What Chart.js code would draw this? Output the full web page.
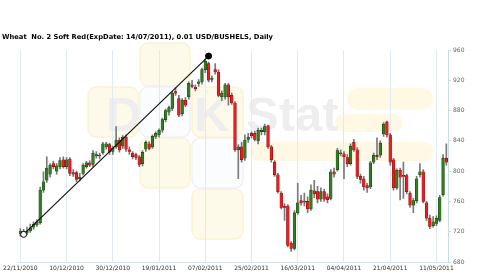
<!DOCTYPE html>
<html>
<head>
<meta charset="utf-8">
<script src="https://cdn.jsdelivr.net/npm/chart.js@4.4.0/dist/chart.umd.min.js"></script>
<style>
html,body{margin:0;padding:0;background:#fff;}
#wrap{position:relative;width:500px;height:279px;overflow:hidden;}
#c{position:absolute;left:0;top:0;}
#title{position:absolute;left:2px;top:32px;font-family:"DejaVu Sans",Verdana,sans-serif;font-weight:bold;font-size:6.75px;color:#000;white-space:pre;line-height:10px;}
</style>
</head>
<body>
<div id="wrap">
<canvas id="c" width="500" height="279"></canvas>
<div id="title">Wheat  No. 2 Soft Red(ExpDate: 14/07/2011), 0.01 USD/BUSHELS, Daily</div>
</div>
<script>
// ---- data ----
const tickLabels = ["22/11/2010","10/12/2010","30/12/2010","19/01/2011","07/02/2011","25/02/2011","16/03/2011","04/04/2011","21/04/2011","11/05/2011"];
const tickEvery = 14;
const opens  = [717,721,718,721,726,729,732,775,788,796,810,800,806,815,806,816,798,798,790,797,806,811,809,820,821,824,832,835,826,832,841,833,845,828,824,822,819,810,829,836,832,846,848,854,868,878,883,905,896,876,894,898,914,911,916,918,934,942,921,934,931,898,898,914,900,890,828,832,817,842,850,850,840,852,852,860,832,812,795,771,754,754,705,698,745,761,759,760,750,774,773,763,773,766,764,799,802,824,823,818,810,838,828,793,790,781,779,812,821,821,849,865,848,815,778,801,794,794,771,755,761,795,799,758,738,728,731,735,769,817];
const highs  = [724,723,726,730,733,736,779,799,819,810,813,810,818,819,818,818,802,800,797,810,813,814,827,826,824,838,838,837,833,859,844,847,848,832,826,824,821,827,840,839,848,852,856,870,882,886,905,910,900,896,897,918,920,914,921,936,948,944,926,942,934,906,916,916,903,892,835,838,848,850,852,853,857,857,862,861,834,814,797,773,757,756,707,748,784,768,771,766,782,788,780,778,776,770,802,804,830,828,826,822,836,842,831,796,793,784,813,824,844,840,864,866,850,817,803,804,812,796,773,764,793,810,802,760,742,740,741,768,822,836];
const lows   = [714,715,716,719,723,727,730,772,785,792,803,796,803,804,803,794,793,786,787,795,804,806,806,817,816,822,829,822,822,830,825,830,826,822,816,815,806,807,826,828,830,843,845,851,865,874,880,900,872,873,885,895,910,906,912,915,930,918,918,928,898,893,895,887,888,826,790,812,814,838,844,840,836,848,848,830,812,793,771,750,735,700,694,696,743,755,754,745,748,765,758,760,760,758,762,792,800,820,790,806,808,826,790,784,775,772,777,810,815,818,846,845,808,775,776,762,764,770,752,745,758,792,758,735,724,726,728,733,767,808];
const closes = [721,718,721,725,730,733,775,786,804,808,806,807,814,806,815,797,796,789,792,808,811,808,824,822,820,836,836,825,830,841,828,845,829,826,819,818,809,825,838,830,846,850,854,868,880,884,903,903,874,894,887,916,912,909,918,934,945,920,923,931,900,903,914,898,890,828,832,815,841,845,847,842,854,854,859,832,815,795,773,752,752,702,698,745,758,758,760,750,775,770,763,773,763,762,799,796,827,823,819,810,833,828,793,789,779,778,811,821,819,837,862,848,812,778,801,792,793,773,755,761,790,799,760,738,727,733,738,765,817,812];
// trend line drawn on the chart: [category index, price]
const trendIndex = [1, 57];
const trendValue = [716.5, 952];
const yMin = 680, yMax = 960, yStep = 40;

// ---- derived structures ----
const categories = opens.map((_, i) => i);
const bodies = opens.map((o, i) => [o, closes[i]]);
const wicks = lows.map((l, i) => [l, highs[i]]);
const trend = categories.map(i => {
  const k = trendIndex.indexOf(i);
  return k >= 0 ? trendValue[k] : null;
});
const isUp = i => closes[i] >= opens[i];

function roundRect(ctx, x, y, w, h, r) {
  ctx.beginPath();
  ctx.moveTo(x + r, y);
  ctx.lineTo(x + w - r, y);
  ctx.arcTo(x + w, y, x + w, y + r, r);
  ctx.lineTo(x + w, y + h - r);
  ctx.arcTo(x + w, y + h, x + w - r, y + h, r);
  ctx.lineTo(x + r, y + h);
  ctx.arcTo(x, y + h, x, y + h - r, r);
  ctx.lineTo(x, y + r);
  ctx.arcTo(x, y, x + r, y, r);
  ctx.closePath();
}

const watermark = {
  id: 'watermark',
  beforeDraw(chart) {
    const ctx = chart.ctx;
    ctx.save();
    const yellow = [[140,43,50,43],[88,87,50,50],[192,87,51,50],[140,138,50,50],[192,189,51,50]];
    const white = [[140,87,50,50],[192,138,51,50]];
    ctx.lineWidth = 1.5;
    yellow.forEach(r => { roundRect(ctx, r[0], r[1], r[2], r[3], 8); ctx.fillStyle = '#fefaea'; ctx.fill(); ctx.strokeStyle = '#fcf2d4'; ctx.stroke(); });
    white.forEach(r => { roundRect(ctx, r[0], r[1], r[2], r[3], 8); ctx.fillStyle = '#fbfcfe'; ctx.fill(); ctx.strokeStyle = '#eef1f6'; ctx.stroke(); });
    const pills = [[347,88,86,22],[335,114,68,18],[250,142,183,19]];
    pills.forEach(p => { roundRect(ctx, p[0], p[1], p[2], p[3], p[3] / 2); ctx.fillStyle = '#fef8e4'; ctx.fill(); });
    ctx.fillStyle = '#eeeeee';
    ctx.font = 'bold 49px "Liberation Sans", Arial, sans-serif';
    ctx.textBaseline = 'alphabetic';
    ctx.fillText('D', 106, 131);
    ctx.fillText('K', 194, 131);
    ctx.fillText('Stat', 246, 131);
    ctx.restore();
  }
};

const chart = new Chart(document.getElementById('c'), {
  type: 'bar',
  data: {
    labels: categories,
    datasets: [
      {
        type: 'line',
        data: trend,
        spanGaps: true,
        borderColor: '#111',
        borderWidth: 1.2,
        pointRadius: c => (trend[c.dataIndex] !== null ? 3 : 0),
        pointBackgroundColor: c => (c.dataIndex === trendIndex[0] ? '#fff' : '#000'),
        pointBorderColor: '#000',
        pointBorderWidth: 1,
        order: 0
      },
      {
        data: bodies,
        grouped: false,
        barThickness: 2.7,
        minBarLength: 1,
        backgroundColor: categories.map(i => isUp(i) ? '#2f7f1f' : '#ee1c1c'),
        borderColor: categories.map(i => isUp(i) ? '#14360c' : '#6e0c0c'),
        borderWidth: 0.5,
        borderSkipped: false,
        order: 1
      },
      {
        data: wicks,
        grouped: false,
        barThickness: 1,
        backgroundColor: '#7a7a7a',
        borderWidth: 0,
        order: 2
      }
    ]
  },
  options: {
    responsive: false,
    animation: false,
    devicePixelRatio: 1,
    layout: { padding: { left: 17, top: 50, right: 0, bottom: 0 } },
    plugins: { legend: { display: false }, tooltip: { enabled: false }, title: { display: false } },
    scales: {
      x: {
        type: 'category',
        offset: true,
        grid: {
          offset: false,
          drawTicks: false,
          color: c => (c.index % tickEvery === 0 ? '#dfeaf3' : 'rgba(0,0,0,0)'),
          lineWidth: 1
        },
        border: { display: true, color: '#d3e2ee' },
        ticks: {
          autoSkip: false,
          maxRotation: 0,
          minRotation: 0,
          padding: 3,
          color: '#333',
          font: { family: '"DejaVu Sans", Verdana, sans-serif', size: 6 },
          callback: (v, i) => (i % tickEvery === 0 ? tickLabels[i / tickEvery] : '')
        },
        afterFit: s => { s.height = 17; }
      },
      y: {
        position: 'right',
        min: yMin,
        max: yMax,
        ticks: {
          stepSize: yStep,
          padding: 2,
          color: '#666',
          font: { family: '"DejaVu Sans", Verdana, sans-serif', size: 6 }
        },
        grid: { drawOnChartArea: false, drawTicks: true, tickLength: 3, color: '#c9dbe8' },
        border: { display: true, color: '#c9dbe8' },
        afterFit: s => { s.width = 52; }
      }
    }
  },
  plugins: [watermark]
});
</script>
</body>
</html>
